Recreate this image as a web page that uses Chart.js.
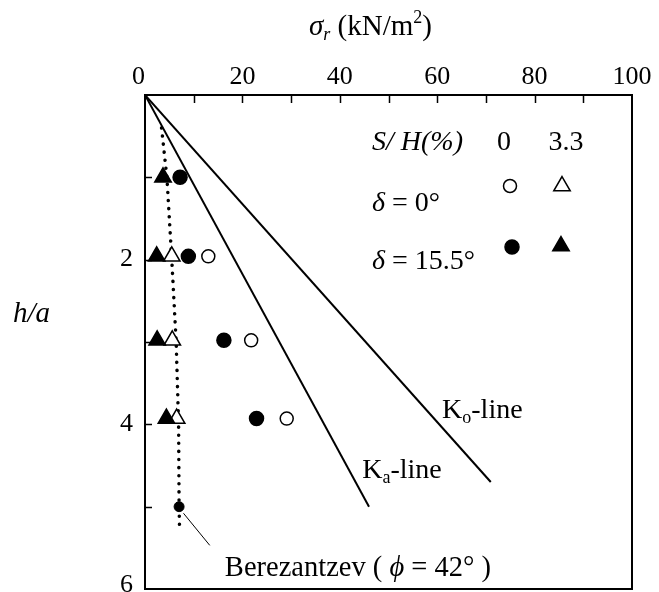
<!DOCTYPE html>
<html>
<head>
<meta charset="utf-8">
<script src="https://cdn.jsdelivr.net/npm/chart.js@4.4.1/dist/chart.umd.min.js"></script>
<style>
  html, body { margin: 0; padding: 0; background: #fff; }
  #wrap { width: 659px; height: 592px; position: relative; }
</style>
</head>
<body>
<div id="wrap"><canvas id="c"></canvas></div>
<script>
// Radial stress sigma_r (kN/m2) against normalised depth h/a
// delta = 0 deg, S/H = 0 %   (open circles)
const sigmaD0S0 = [13.0, 21.8, 29.1];
const depthD0S0 = [1.96, 2.98, 3.93];
// delta = 0 deg, S/H = 3.3 % (open triangles)
const sigmaD0S33 = [5.5, 5.6, 6.5];
const depthD0S33 = [1.96, 2.98, 3.93];
// delta = 15.5 deg, S/H = 0 %   (filled circles)
const sigmaD155S0 = [7.2, 8.9, 16.2, 22.9];
const depthD155S0 = [1.0, 1.96, 2.98, 3.93];
// delta = 15.5 deg, S/H = 3.3 % (filled triangles)
const sigmaD155S33 = [3.7, 2.4, 2.5, 4.4];
const depthD155S33 = [1.0, 1.96, 2.98, 3.93];

// Earth-pressure reference lines
const koSigma = [0, 71];
const koDepth = [0, 4.7];
const kaSigma = [0, 46];
const kaDepth = [0, 5.0];

// Berezantzev solution (phi = 42 deg)
const berezSigma = [3.4, 4.5, 5.5, 6.4, 6.9, 7.0, 7.1];
const berezDepth = [0.4, 1.0, 2.0, 3.0, 4.0, 5.0, 5.27];
const berezMarkSigma = [7.0];
const berezMarkDepth = [5.0];
const leaderSigma = [7.9, 13.3];
const leaderDepth = [5.08, 5.47];

// Labelled ticks
const xLabelled = [0, 20, 40, 60, 80, 100];
const yLabelled = [2, 4, 6];

const pts = (xs, ys) => xs.map((v, i) => ({ x: v, y: ys[i] }));

const SERIF = "'Liberation Serif', 'Times New Roman', serif";
const BLACK = '#000';

function drawRuns(ctx, x, y, parts) {
  for (const p of parts) {
    ctx.font = p.f;
    ctx.fillText(p.t, x, y + (p.dy || 0));
    x += ctx.measureText(p.t).width;
  }
}

function circleMark(ctx, x, y, r, filled) {
  ctx.beginPath();
  ctx.arc(x, y, r, 0, Math.PI * 2);
  ctx.closePath();
  ctx.fillStyle = filled ? BLACK : '#fff';
  ctx.fill();
  ctx.lineWidth = 1.5;
  ctx.strokeStyle = BLACK;
  ctx.stroke();
}

function triangleMark(ctx, x, y, r, filled) {
  ctx.beginPath();
  let a = 0;
  for (let i = 0; i < 3; i++) {
    const px = x + Math.sin(a) * r, py = y - Math.cos(a) * r;
    if (i === 0) ctx.moveTo(px, py); else ctx.lineTo(px, py);
    a += Math.PI * 2 / 3;
  }
  ctx.closePath();
  ctx.fillStyle = filled ? BLACK : '#fff';
  ctx.fill();
  ctx.lineWidth = 1.5;
  ctx.strokeStyle = BLACK;
  ctx.stroke();
}

// Frame, inward tick marks, titles, key and line labels
const decorations = {
  id: 'decorations',
  afterDraw(chart) {
    const ctx = chart.ctx;
    const a = chart.chartArea;
    const xs = chart.scales.x, ys = chart.scales.y;
    ctx.save();

    // frame
    ctx.strokeStyle = BLACK;
    ctx.lineWidth = 2;
    ctx.strokeRect(a.left, a.top, a.right - a.left, a.bottom - a.top);

    // inward ticks
    ctx.lineWidth = 1.5;
    ctx.beginPath();
    xs.ticks.forEach(t => {
      if (t.value <= xs.min || t.value >= xs.max) return;
      const px = Math.round(xs.getPixelForValue(t.value)) + 0.5;
      ctx.moveTo(px, a.top);
      ctx.lineTo(px, a.top + 8);
    });
    ys.ticks.forEach(t => {
      if (t.value <= ys.min || t.value >= ys.max) return;
      const py = Math.round(ys.getPixelForValue(t.value)) + 0.5;
      ctx.moveTo(a.left, py);
      ctx.lineTo(a.left + 7, py);
    });
    ctx.stroke();

    ctx.fillStyle = BLACK;
    ctx.textBaseline = 'alphabetic';
    ctx.textAlign = 'left';

    // x-axis title
    drawRuns(ctx, a.left + 164, 35, [
      { t: '\u03c3', f: 'italic 29px ' + SERIF },
      { t: 'r', f: 'italic 18px ' + SERIF, dy: 5 },
      { t: ' (kN/m', f: '29px ' + SERIF },
      { t: '2', f: '18px ' + SERIF, dy: -12 },
      { t: ')', f: '29px ' + SERIF }
    ]);

    // y-axis title
    drawRuns(ctx, 13, 322, [{ t: 'h/a', f: 'italic 29px ' + SERIF }]);

    // key
    const kx = a.left + 227, ky = a.top;
    drawRuns(ctx, kx, ky + 55, [{ t: 'S/ H(%)', f: 'italic 28px ' + SERIF }]);
    ctx.textAlign = 'center';
    ctx.font = '28px ' + SERIF;
    ctx.fillText('0', a.left + 359, ky + 55);
    ctx.fillText('3.3', a.left + 421, ky + 55);
    ctx.textAlign = 'left';
    drawRuns(ctx, kx, ky + 116, [
      { t: '\u03b4', f: 'italic 28px ' + SERIF },
      { t: ' = 0\u00b0', f: '28px ' + SERIF }
    ]);
    drawRuns(ctx, kx, ky + 174, [
      { t: '\u03b4', f: 'italic 28px ' + SERIF },
      { t: ' = 15.5\u00b0', f: '28px ' + SERIF }
    ]);
    circleMark(ctx, a.left + 365, ky + 91, 6.5, false);
    triangleMark(ctx, a.left + 417, ky + 91, 9.5, false);
    circleMark(ctx, a.left + 367, ky + 152, 7, true);
    triangleMark(ctx, a.left + 416, ky + 151, 9.5, true);

    // line labels
    ctx.fillStyle = BLACK;
    drawRuns(ctx, xs.getPixelForValue(61), ys.getPixelForValue(3.92), [
      { t: 'K', f: '28px ' + SERIF },
      { t: 'o', f: '18px ' + SERIF, dy: 5 },
      { t: '-line', f: '28px ' + SERIF }
    ]);
    drawRuns(ctx, xs.getPixelForValue(44.6), ys.getPixelForValue(4.65), [
      { t: 'K', f: '28px ' + SERIF },
      { t: 'a', f: '18px ' + SERIF, dy: 5 },
      { t: '-line', f: '28px ' + SERIF }
    ]);
    drawRuns(ctx, xs.getPixelForValue(16.4), ys.getPixelForValue(5.84), [
      { t: 'Berezantzev ( ', f: '28.5px ' + SERIF },
      { t: '\u03d5', f: 'italic 28.5px ' + SERIF },
      { t: ' = 42\u00b0 )', f: '28.5px ' + SERIF }
    ]);

    ctx.restore();
  }
};

const tickFont = { family: SERIF, size: 26 };
const noEdgePadding = s => {
  s.paddingTop = 0; s.paddingBottom = 0; s.paddingLeft = 0; s.paddingRight = 0;
};

new Chart(document.getElementById('c'), {
  type: 'scatter',
  data: {
    datasets: [
      { data: pts(sigmaD155S33, depthD155S33), pointStyle: 'triangle', pointRadius: 9.5,
        backgroundColor: BLACK, borderColor: BLACK, borderWidth: 1.5 },
      { data: pts(sigmaD155S0, depthD155S0), pointStyle: 'circle', pointRadius: 7,
        backgroundColor: BLACK, borderColor: BLACK, borderWidth: 1.5 },
      { data: pts(sigmaD0S33, depthD0S33), pointStyle: 'triangle', pointRadius: 9.5,
        backgroundColor: '#fff', borderColor: BLACK, borderWidth: 1.5 },
      { data: pts(sigmaD0S0, depthD0S0), pointStyle: 'circle', pointRadius: 6.5,
        backgroundColor: '#fff', borderColor: BLACK, borderWidth: 1.5 },
      { data: pts(berezMarkSigma, berezMarkDepth), pointStyle: 'circle', pointRadius: 5,
        backgroundColor: BLACK, borderColor: BLACK, borderWidth: 1 },
      { data: pts(berezSigma, berezDepth), showLine: true, pointRadius: 0,
        borderColor: BLACK, borderWidth: 3.5, borderDash: [0.1, 8], borderCapStyle: 'round' },
      { data: pts(leaderSigma, leaderDepth), showLine: true, pointRadius: 0,
        borderColor: BLACK, borderWidth: 1 },
      { data: pts(kaSigma, kaDepth), showLine: true, pointRadius: 0,
        borderColor: BLACK, borderWidth: 2 },
      { data: pts(koSigma, koDepth), showLine: true, pointRadius: 0,
        borderColor: BLACK, borderWidth: 2 }
    ]
  },
  options: {
    responsive: true,
    maintainAspectRatio: false,
    animation: false,
    layout: { autoPadding: false, padding: { top: 0, left: 0, right: 27, bottom: 3 } },
    plugins: { legend: { display: false }, tooltip: { enabled: false } },
    scales: {
      x: {
        type: 'linear', position: 'top', min: 0, max: 100,
        grid: { display: false },
        border: { display: false },
        ticks: {
          stepSize: 10, color: BLACK, font: tickFont, padding: -6, maxRotation: 0,
          autoSkip: false,
          callback: v => xLabelled.includes(v) ? (v === 0 ? '0\u2002' : String(v)) : ''
        },
        afterFit: s => { s.height = 95; noEdgePadding(s); }
      },
      y: {
        type: 'linear', reverse: true, min: 0, max: 6,
        grid: { display: false },
        border: { display: false },
        ticks: {
          stepSize: 1, color: BLACK, padding: 4, autoSkip: false,
          font: c => (c.tick && c.tick.value === 6)
            ? { family: SERIF, size: 26, lineHeight: '8px' }
            : tickFont,
          callback: v => yLabelled.includes(v) ? (v === 6 ? ['6', ''] : String(v)) : ''
        },
        afterFit: s => { s.width = 145; noEdgePadding(s); }
      }
    }
  },
  plugins: [decorations]
});
</script>
</body>
</html>
